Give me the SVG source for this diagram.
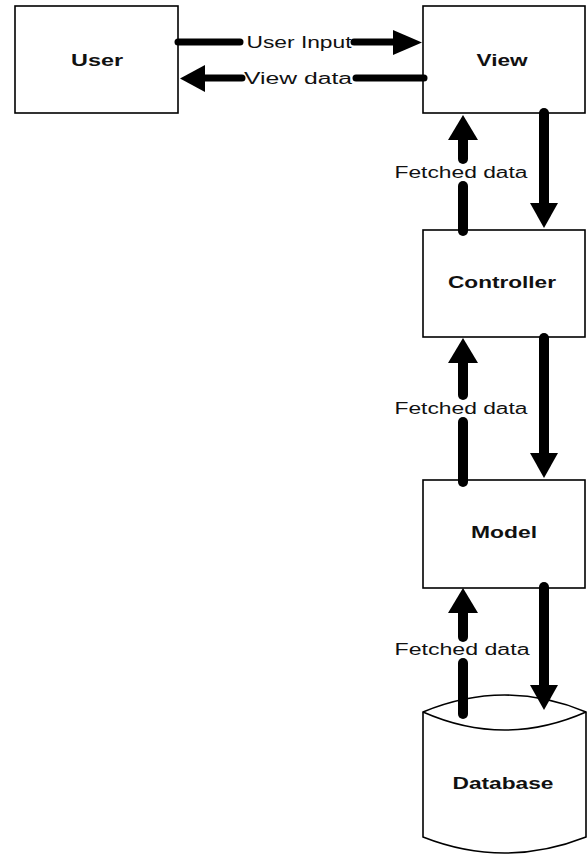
<svg xmlns="http://www.w3.org/2000/svg" width="587" height="855" viewBox="0 0 587 855">
  <style>
    .box { fill: #ffffff; stroke: #000000; stroke-width: 1.6; }
    .name { font-family: "Liberation Sans", Arial, sans-serif; font-size: 16px; font-weight: bold; fill: #111111; text-anchor: middle; }
    .lbl { font-family: "Liberation Sans", Arial, sans-serif; font-size: 16px; fill: #111111; text-anchor: middle; }
    .h { stroke: #000000; stroke-width: 7; stroke-linecap: round; fill: none; }
    .v { stroke: #000000; stroke-width: 10; stroke-linecap: round; fill: none; }
    .head { fill: #000000; }
  </style>
  <rect width="587" height="855" fill="#ffffff"/>

  <g id="user">
    <rect class="box" x="15" y="6" width="163" height="107"/>
    <text class="name" x="97" y="66" textLength="52" lengthAdjust="spacingAndGlyphs">User</text>
  </g>

  <g id="view">
    <rect class="box" x="423" y="6" width="162" height="107"/>
    <text class="name" x="502" y="66" textLength="51" lengthAdjust="spacingAndGlyphs">View</text>
  </g>

  <g id="controller">
    <rect class="box" x="423" y="230" width="162" height="107"/>
    <text class="name" x="502" y="288" textLength="108" lengthAdjust="spacingAndGlyphs">Controller</text>
  </g>

  <g id="model">
    <rect class="box" x="423" y="480" width="162" height="108"/>
    <text class="name" x="504" y="538" textLength="66" lengthAdjust="spacingAndGlyphs">Model</text>
  </g>

  <g id="database">
    <path class="box" d="M423,712 L423,837 Q504.5,869 586,837 L586,712 Q504.5,678 423,712 Z"/>
    <path class="box" fill="none" d="M423,712 Q504.5,748 586,712"/>
    <text class="name" x="503" y="789" textLength="101" lengthAdjust="spacingAndGlyphs">Database</text>
  </g>

  <g id="connectors">
    <!-- User -> View : User Input -->
    <line class="h" x1="178" y1="42" x2="240" y2="42"/>
    <line class="h" x1="354" y1="42" x2="395" y2="42"/>
    <polygon class="head" points="393,30 422,42.5 393,55"/>
    <text class="lbl" x="299" y="48" textLength="105" lengthAdjust="spacingAndGlyphs">User Input</text>

    <!-- View -> User : View data -->
    <line class="h" x1="203" y1="78" x2="242" y2="78"/>
    <line class="h" x1="356" y1="78" x2="424" y2="78"/>
    <polygon class="head" points="205,65 180,78.5 205,92"/>
    <text class="lbl" x="298" y="84" textLength="108" lengthAdjust="spacingAndGlyphs">View data</text>

    <!-- Controller -> View : Fetched data -->
    <line class="v" x1="463" y1="138" x2="463" y2="159"/>
    <line class="v" x1="463" y1="186" x2="463" y2="231"/>
    <polygon class="head" points="448,140 463,115 478,140"/>
    <text class="lbl" x="461" y="178" textLength="133" lengthAdjust="spacingAndGlyphs">Fetched data</text>

    <!-- View -> Controller -->
    <line class="v" x1="544" y1="113" x2="544" y2="205"/>
    <polygon class="head" points="530,203 558,203 544,228"/>

    <!-- Model -> Controller : Fetched data -->
    <line class="v" x1="463" y1="361" x2="463" y2="395"/>
    <line class="v" x1="463" y1="422" x2="463" y2="482"/>
    <polygon class="head" points="448,363 463,338 478,363"/>
    <text class="lbl" x="461" y="414" textLength="133" lengthAdjust="spacingAndGlyphs">Fetched data</text>

    <!-- Controller -> Model -->
    <line class="v" x1="544" y1="338" x2="544" y2="455"/>
    <polygon class="head" points="530,453 558,453 544,478"/>

    <!-- Database -> Model : Fetched data -->
    <line class="v" x1="463" y1="611" x2="463" y2="637"/>
    <line class="v" x1="463" y1="663" x2="463" y2="714"/>
    <polygon class="head" points="448,613 463,588 478,613"/>
    <text class="lbl" x="462" y="655" textLength="135" lengthAdjust="spacingAndGlyphs">Fetched data</text>

    <!-- Model -> Database -->
    <line class="v" x1="544" y1="587" x2="544" y2="687"/>
    <polygon class="head" points="530,685 558,685 544,710"/>
  </g>
</svg>
